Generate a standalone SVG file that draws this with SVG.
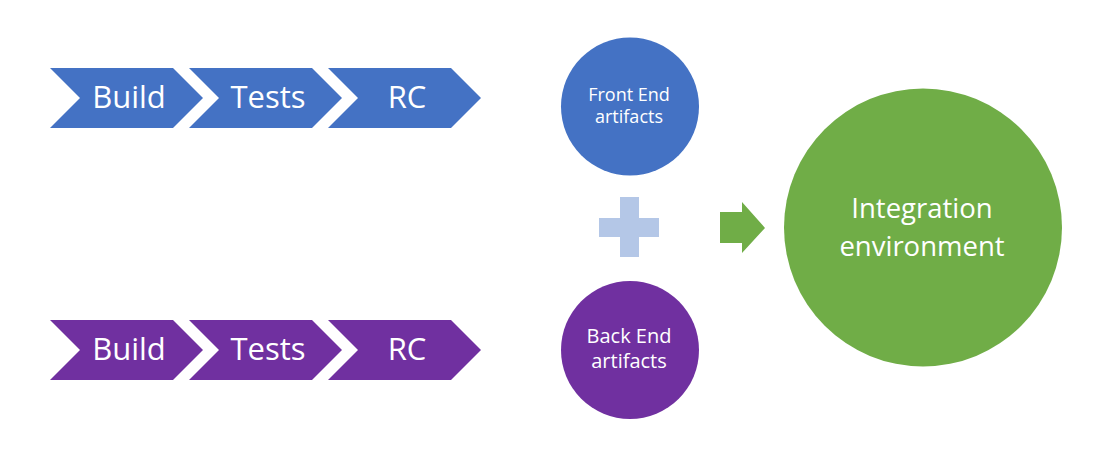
<svg xmlns="http://www.w3.org/2000/svg" width="1106" height="465" viewBox="0 0 1106 465">
<style>
text{font-family:"Open Sans","Noto Sans","Liberation Sans",sans-serif;fill:#fff;text-anchor:middle}
.blue{fill:#4472C4}
.purple{fill:#7030A0}
.green{fill:#70AD47}
.chev{font-size:31px}
</style>
<defs>
<path id="chev" d="M0,0 H123 L153,30 L123,60 H0 L30,30 Z"/>
</defs>
<rect width="1106" height="465" fill="#fff"/>
<g id="fe-build"><use href="#chev" x="50" y="68" class="blue"/><text class="chev" x="129" y="108">Build</text></g>
<g id="fe-tests"><use href="#chev" x="189" y="68" class="blue"/><text class="chev" x="268" y="108">Tests</text></g>
<g id="fe-rc"><use href="#chev" x="328" y="68" class="blue"/><text class="chev" x="407" y="108">RC</text></g>
<g id="be-build"><use href="#chev" x="50" y="320" class="purple"/><text class="chev" x="129" y="360">Build</text></g>
<g id="be-tests"><use href="#chev" x="189" y="320" class="purple"/><text class="chev" x="268" y="360">Tests</text></g>
<g id="be-rc"><use href="#chev" x="328" y="320" class="purple"/><text class="chev" x="407" y="360">RC</text></g>
<g id="fe-artifacts"><circle cx="630" cy="106.5" r="69" class="blue"/><text x="629" y="101" font-size="18">Front End</text><text x="629" y="123" font-size="18">artifacts</text></g>
<g id="plus"><path d="M620,197 H639 V218 H659 V237 H639 V257 H620 V237 H599 V218 H620 Z" fill="#B4C7E7"/></g>
<g id="be-artifacts"><circle cx="630" cy="350" r="69" class="purple"/><text x="629" y="343" font-size="20">Back End</text><text x="629" y="368" font-size="20">artifacts</text></g>
<g id="connectors"><path d="M720,212 H742 V202 L765,228 L742,253 V243 H720 Z" class="green"/></g>
<g id="integration"><circle cx="923" cy="227.5" r="139" class="green"/><text x="922" y="218" font-size="27.5">Integration</text><text x="922" y="256" font-size="27.5">environment</text></g>
</svg>
